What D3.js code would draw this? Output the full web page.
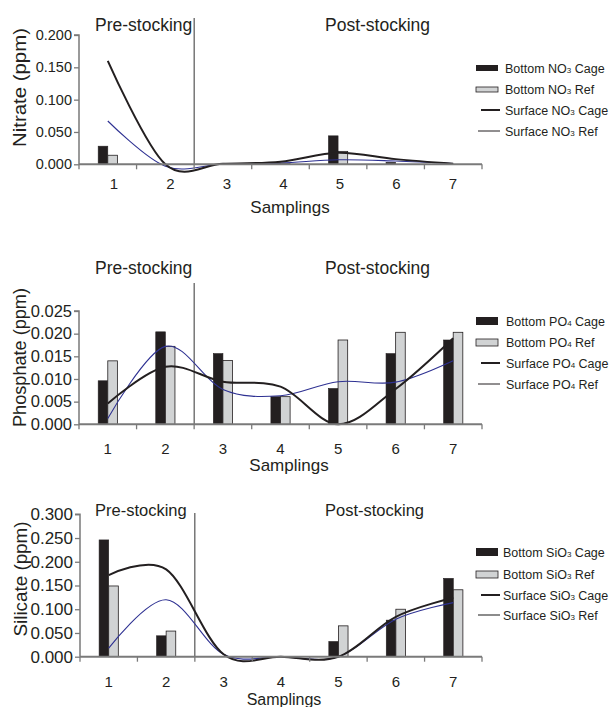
<!DOCTYPE html>
<html><head><meta charset="utf-8">
<script src="https://cdn.jsdelivr.net/npm/d3@7"></script>
<style>
body{margin:0;background:#fff;}
svg{display:block;font-family:"Liberation Sans",Arial,sans-serif;}
</style></head>
<body>
<svg id="chart" width="612" height="707"></svg>
<script>
// ---- data ----
const categories = ["1","2","3","4","5","6","7"];

const no3BottomCage = [0.028, 0.000, 0.000, 0.002, 0.044, 0.003, 0.000];
const no3BottomRef  = [0.014, 0.000, 0.000, 0.001, 0.020, 0.000, 0.000];
const no3SurfCage   = [0.160, 0.000, 0.001, 0.004, 0.018, 0.008, 0.001];
const no3SurfRef    = [0.067, -0.003, 0.0005, 0.002, 0.007, 0.005, 0.001];

const po4BottomCage = [0.0096, 0.0204, 0.0156, 0.0061, 0.0079, 0.0156, 0.0186];
const po4BottomRef  = [0.0140, 0.0172, 0.0141, 0.0061, 0.0186, 0.0203, 0.0203];
const po4SurfCage   = [0.0046, 0.0127, 0.0094, 0.0083, 0.0000, 0.0078, 0.0190];
const po4SurfRef    = [0.0013, 0.0172, 0.0077, 0.0063, 0.0094, 0.0093, 0.0140];

const sio3BottomCage = [0.246, 0.044, 0.000, 0.000, 0.032, 0.077, 0.165];
const sio3BottomRef  = [0.149, 0.054, 0.000, 0.000, 0.065, 0.100, 0.141];
const sio3SurfCage   = [0.172, 0.184, 0.005, 0.000, 0.000, 0.084, 0.124];
const sio3SurfRef    = [0.018, 0.120, 0.005, 0.000, 0.000, 0.079, 0.114];

const no3Ticks  = [0, 0.05, 0.10, 0.15, 0.20];
const po4Ticks  = [0, 0.005, 0.010, 0.015, 0.020, 0.025];
const sio3Ticks = [0, 0.05, 0.10, 0.15, 0.20, 0.25, 0.30];

const periodLabels = ["Pre-stocking", "Post-stocking"];
const xTitle = "Samplings";

// ---- panel layout ----
const panels = [
  {chem:"NO", sub:"3", yTitle:"Nitrate (ppm)", ticks:no3Ticks, max:0.2,
   bc:no3BottomCage, br:no3BottomRef, sc:no3SurfCage, sr:no3SurfRef,
   x0:79, x1:482, yTop:35, yBot:164.3, tickFont:14.5, yTitleLen:119, yTitleCY:87.5, yTitleX:20,
   labelRange:[114,453], labelY:189, xTitleY:213, xTitleX:290, xTitleFont:17,
   periodY:31, periodFont:17.5, divTop:18, legY:[68,89,110,131], legSwH:6, refLegColor:"#231f20", legX:505},
  {chem:"PO", sub:"4", yTitle:"Phosphate (ppm)", ticks:po4Ticks, max:0.025,
   bc:po4BottomCage, br:po4BottomRef, sc:po4SurfCage, sr:po4SurfRef,
   x0:79, x1:482, yTop:311, yBot:424.3, tickFont:16.5, yTitleLen:139, yTitleCY:357.5, yTitleX:20,
   labelRange:null, labelY:454, xTitleY:471, xTitleX:289, xTitleFont:17,
   periodY:274, periodFont:17.5, divTop:283, legY:[321,342,363,384], legSwH:8, refLegColor:"#231f20", legX:506},
  {chem:"SiO", sub:"3", yTitle:"Silicate (ppm)", ticks:sio3Ticks, max:0.3,
   bc:sio3BottomCage, br:sio3BottomRef, sc:sio3SurfCage, sr:sio3SurfRef,
   x0:80, x1:482, yTop:514.3, yBot:656.7, tickFont:17, yTitleLen:115, yTitleCY:579, yTitleX:21,
   labelRange:null, labelY:687, xTitleY:705, xTitleX:284, xTitleFont:16,
   periodY:516, periodFont:16.5, divTop:513, legY:[552,574,595,615], legSwH:8, refLegColor:"#8c8c8c", legX:503}
];

const svg = d3.select("#chart");
const DARK = "#231f20", GREY = "#d1d3d4", AXIS = "#7a7a7a", BLUE = "#2e3192";

panels.forEach(p => {
  const g = svg.append("g");
  const x = d3.scaleBand().domain(categories).range([p.x0, p.x1]).paddingInner(0).paddingOuter(0);
  const y = d3.scaleLinear().domain([0, p.max]).range([p.yBot, p.yTop]);
  const bw = 9.6;
  const cx = d => x(d) + x.bandwidth()/2;

  // divider between pre and post stocking
  const divX = x("3");
  g.append("line").attr("x1", divX).attr("x2", divX).attr("y1", p.divTop).attr("y2", p.yBot)
    .attr("stroke", "#333").attr("stroke-width", 1);

  // period labels
  g.append("text").attr("x", 95).attr("y", p.periodY).attr("font-size", p.periodFont)
    .attr("fill", DARK).text(periodLabels[0]);
  g.append("text").attr("x", 325).attr("y", p.periodY).attr("font-size", p.periodFont)
    .attr("fill", DARK).text(periodLabels[1]);

  const line = d3.line().x((d,i) => cx(categories[i])).y(d => y(d)).curve(d3.curveCatmullRom.alpha(0));

  // bars
  g.selectAll(".bc").data(p.bc).join("rect")
    .attr("x", (d,i) => cx(categories[i]) - bw)
    .attr("y", d => y(d)).attr("width", bw).attr("height", d => y(0) - y(d))
    .attr("fill", DARK).attr("stroke", DARK).attr("stroke-width", 0.6);
  g.selectAll(".br").data(p.br).join("rect")
    .attr("x", (d,i) => cx(categories[i]))
    .attr("y", d => y(d)).attr("width", bw).attr("height", d => y(0) - y(d))
    .attr("fill", GREY).attr("stroke", DARK).attr("stroke-width", 0.8);

  // surface lines
  g.append("path").datum(p.sr).attr("d", line).attr("fill","none").attr("stroke", BLUE).attr("stroke-width", 1.1);
  g.append("path").datum(p.sc).attr("d", line).attr("fill","none").attr("stroke", DARK).attr("stroke-width", 2);

  // y axis
  const yAxis = d3.axisLeft(y).tickValues(p.ticks).tickSize(5).tickPadding(2).tickFormat(d3.format(".3f"));
  const ya = g.append("g").attr("transform", `translate(${p.x0},0)`).call(yAxis);
  ya.select(".domain").attr("stroke", AXIS).attr("stroke-width", 1.5).attr("d", `M-5,${p.yTop}H0V${p.yBot}`);
  ya.selectAll(".tick line").attr("stroke", AXIS).attr("stroke-width", 1.3);
  ya.selectAll(".tick text").attr("font-size", p.tickFont).attr("fill", DARK)
    .attr("font-family", "Liberation Sans, Arial, sans-serif");

  // x axis with ticks at band boundaries
  const xa = g.append("g").attr("transform", `translate(0,${p.yBot})`);
  xa.append("line").attr("x1", p.x0).attr("x2", p.x1).attr("y1", 0).attr("y2", 0)
    .attr("stroke", AXIS).attr("stroke-width", 2);
  const bounds = categories.map(c => x(c)).concat([p.x1]);
  xa.selectAll(".xt").data(bounds).join("line")
    .attr("x1", d => d).attr("x2", d => d).attr("y1", 0).attr("y2", 5)
    .attr("stroke", AXIS).attr("stroke-width", 1.3);
  const lab = p.labelRange ? d3.scalePoint().domain(categories).range(p.labelRange) : cx;
  g.selectAll(".xl").data(categories).join("text")
    .attr("x", d => lab(d)).attr("y", p.labelY).attr("text-anchor", "middle")
    .attr("font-size", 15).attr("fill", DARK).text(d => d);

  // axis titles
  g.append("text").attr("x", p.xTitleX).attr("y", p.xTitleY).attr("text-anchor","middle")
    .attr("font-size", p.xTitleFont).attr("fill", DARK).text(xTitle);
  g.append("text").attr("transform", `translate(${p.yTitleX + 6},${p.yTitleCY}) rotate(-90)`)
    .attr("text-anchor","middle").attr("font-size", 17.5).attr("fill", DARK)
    .attr("textLength", p.yTitleLen).attr("lengthAdjust", "spacingAndGlyphs").text(p.yTitle);

  // legend
  const lx = 476, tx = p.legX;
  const names = [["Bottom ", " Cage"], ["Bottom ", " Ref"], ["Surface ", " Cage"], ["Surface ", " Ref"]];
  names.forEach((nm, i) => {
    const ly = p.legY[i];
    if (i === 0) {
      g.append("rect").attr("x", lx).attr("y", ly - p.legSwH/2).attr("width", 22).attr("height", p.legSwH)
        .attr("fill", DARK);
    } else if (i === 1) {
      g.append("rect").attr("x", lx).attr("y", ly - p.legSwH/2 + 1).attr("width", 22).attr("height", p.legSwH - 1)
        .attr("fill", GREY).attr("stroke", DARK).attr("stroke-width", 0.8);
    } else if (i === 2) {
      g.append("line").attr("x1", 481).attr("x2", 500).attr("y1", ly).attr("y2", ly)
        .attr("stroke", DARK).attr("stroke-width", 2);
    } else {
      g.append("line").attr("x1", 478).attr("x2", 500).attr("y1", ly).attr("y2", ly)
        .attr("stroke", p.refLegColor).attr("stroke-width", p.refLegColor!==DARK ? 2 : 1);
    }
    const t = g.append("text").attr("x", tx).attr("y", ly + 4.5).attr("font-size", 12.5).attr("fill", DARK);
    t.append("tspan").text(nm[0] + p.chem);
    t.append("tspan").attr("font-size", 8).text(p.sub);
    t.append("tspan").text(nm[1]);
  });
});
</script>
</body></html>
